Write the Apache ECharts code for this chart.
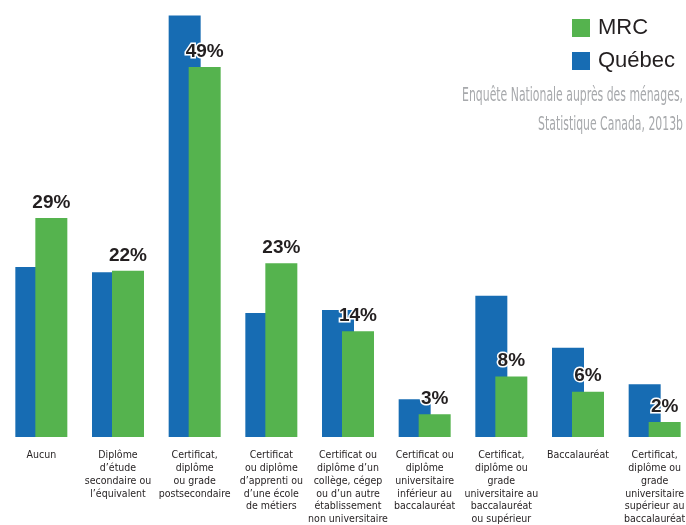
<!DOCTYPE html>
<html>
<head>
<meta charset="utf-8">
<script src="https://cdn.jsdelivr.net/npm/echarts@6/dist/echarts.min.js"></script>
<style>
  html, body { margin: 0; padding: 0; background: #fff; }
  #chart { width: 686px; height: 525px; }
</style>
</head>
<body>
<div id="chart"></div>
<script>
const categories = [
  'Aucun',
  'Diplôme\nd’étude\nsecondaire ou\nl’équivalent',
  'Certificat,\ndiplôme\nou grade\npostsecondaire',
  'Certificat\nou diplôme\nd’apprenti ou\nd’une école\nde métiers',
  'Certificat ou\ndiplôme d’un\ncollège, cégep\nou d’un autre\nétablissement\nnon universitaire',
  'Certificat ou\ndiplôme\nuniversitaire\ninférieur au\nbaccalauréat',
  'Certificat,\ndiplôme ou\ngrade\nuniversitaire au\nbaccalauréat\nou supérieur',
  'Baccalauréat',
  'Certificat,\ndiplôme ou\ngrade\nuniversitaire\nsupérieur au\nbaccalauréat'
];
const quebec = [22.5, 21.8, 55.8, 16.4, 16.8, 5.0, 18.7, 11.8, 7.0];
const mrc = [29, 22, 49, 23, 14, 3, 8, 6, 2];
const legendNames = ['MRC', 'Québec'];
const sourceText = 'Enquête Nationale auprès des ménages,\nStatistique Canada, 2013b';

const narrow = '"Liberation Sans Narrow", "DejaVu Sans Condensed", sans-serif';
const chart = echarts.init(document.getElementById('chart'));

chart.setOption({
  animation: false,
  grid: { left: 3, top: 14, width: 690, height: 423, outerBoundsMode: 'none' },
  legend: {
    data: legendNames,
    orient: 'vertical',
    left: 572,
    top: 17,
    padding: 0,
    icon: 'rect',
    itemWidth: 18,
    itemHeight: 18,
    itemGap: 11,
    textStyle: { fontSize: 22, color: '#231f20', fontFamily: '"Liberation Sans", Arial, sans-serif', padding: [0, 0, 0, 3] }
  },
  graphic: [{
    type: 'text',
    x: 683,
    y: 81,
    scaleX: 0.62,
    style: {
      text: sourceText,
      align: 'right',
      verticalAlign: 'top',
      font: '19.5px ' + narrow,
      lineHeight: 29,
      fill: '#a7a9ac'
    }
  }],
  xAxis: {
    type: 'category',
    data: categories,
    axisLine: { show: false },
    axisTick: { show: false },
    axisLabel: {
      interval: 0,
      margin: 12,
      fontSize: 10.5,
      lineHeight: 12.8,
      fontFamily: narrow,
      color: '#231f20'
    }
  },
  yAxis: {
    type: 'value',
    min: 0,
    max: 56,
    show: false,
    splitLine: { show: false }
  },
  series: [
    {
      name: 'Québec',
      type: 'bar',
      data: quebec,
      barWidth: 32,
      barGap: '-37.5%',
      itemStyle: { color: '#176cb3' }
    },
    {
      name: 'MRC',
      type: 'bar',
      data: mrc,
      barWidth: 32,
      itemStyle: { color: '#55b34e' },
      label: {
        show: true,
        position: 'top',
        distance: 6,
        formatter: '{c}%',
        fontSize: 19,
        fontWeight: 'bold',
        fontFamily: '"Liberation Sans", Arial, sans-serif',
        color: '#231f20',
        textBorderColor: '#fff',
        textBorderWidth: 3
      }
    }
  ]
});
</script>
</body>
</html>
